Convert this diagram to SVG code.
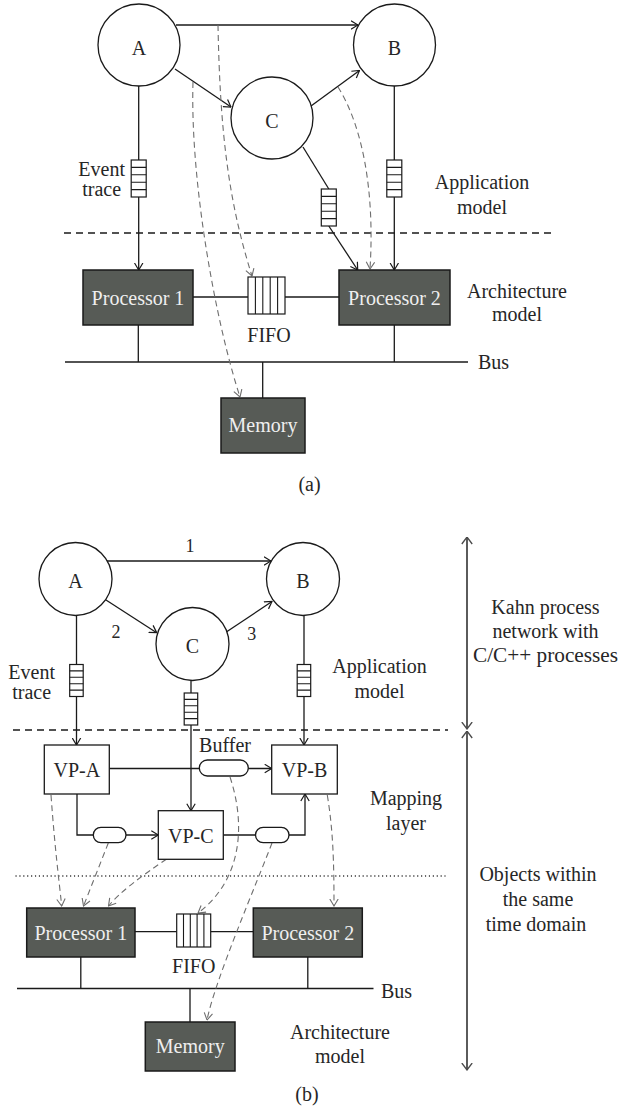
<svg xmlns="http://www.w3.org/2000/svg" width="619" height="1111" viewBox="0 0 619 1111">
<style>
.ln{fill:none;stroke:#1a1a1a;stroke-width:1.3}
.ar{marker-end:url(#ah)}
.dm{fill:none;stroke:#6e6e6e;stroke-width:1.1;stroke-dasharray:6 4;marker-end:url(#ahg)}
.sep{fill:none;stroke:#1a1a1a;stroke-width:1.3;stroke-dasharray:7 5}
.dot{fill:none;stroke:#1a1a1a;stroke-width:1.3;stroke-dasharray:0.1 3.8;stroke-linecap:round}
.nd{fill:#fff;stroke:#1a1a1a;stroke-width:1.3}
.pr{fill:#575b56;stroke:#1a1a1a;stroke-width:1.5}
.t{font-family:"Liberation Serif","Times New Roman",serif;font-size:20px;fill:#262626;text-anchor:middle}
.s{font-size:18px}
.tw{fill:#efefef}
.q{fill:#fff;stroke:#1a1a1a;stroke-width:1.2}
.ql{fill:none;stroke:#1a1a1a;stroke-width:1.1}
.va{fill:none;stroke:#4a4a4a;stroke-width:1.8;marker-start:url(#ahv);marker-end:url(#ahv)}
</style>
<defs>
<marker id="ah" viewBox="0 0 8 10" refX="7.5" refY="5" markerWidth="8" markerHeight="10" markerUnits="userSpaceOnUse" orient="auto"><path d="M0.5,0.8 L7.5,5 L0.5,9.2" fill="none" stroke="#1a1a1a" stroke-width="1.2"/></marker>
<marker id="ahg" viewBox="0 0 8 10" refX="7.5" refY="5" markerWidth="8" markerHeight="10" markerUnits="userSpaceOnUse" orient="auto"><path d="M0.5,0.8 L7.5,5 L0.5,9.2" fill="none" stroke="#6e6e6e" stroke-width="1.1"/></marker>
<marker id="ahv" viewBox="0 0 8 12" refX="7.5" refY="6" markerWidth="8" markerHeight="12" markerUnits="userSpaceOnUse" orient="auto-start-reverse"><path d="M0.5,0.8 L7.5,6 L0.5,11.2" fill="none" stroke="#4a4a4a" stroke-width="1.3"/></marker>
<g id="qa"><rect class="q" x="0" y="0" width="15" height="37"/><path class="ql" d="M0,7.4H15M0,14.8H15M0,22.2H15M0,29.6H15"/></g>
<g id="qb"><rect class="q" x="0" y="0" width="13.5" height="32"/><path class="ql" d="M0,6.4H13.5M0,12.8H13.5M0,19.2H13.5M0,25.6H13.5"/></g>
<g id="fa"><rect class="q" x="0" y="0" width="37" height="37"/><path class="ql" d="M7.4,0V37M14.8,0V37M22.2,0V37M29.6,0V37"/></g>
<g id="fb"><rect class="q" x="0" y="0" width="34" height="33"/><path class="ql" d="M6.8,0V33M13.6,0V33M20.4,0V33M27.2,0V33"/></g>
</defs>

<!-- ===== (a) ===== -->
<g id="a-connectors">
<path class="ln ar" d="M176,25 H358"/>
<path class="ln ar" d="M175,69 L231,107"/>
<path class="ln ar" d="M311,106 L359.5,70.5"/>
<path class="ln ar" d="M138.7,86 V270"/>
<path class="ln ar" d="M394.3,86 V270"/>
<path class="ln" d="M303,147 L328.8,189"/>
<path class="ln ar" d="M328.8,226 L357.7,270"/>
<path class="sep" d="M64,233 H554"/>
<path class="ln" d="M193,297 H339"/>
<path class="ln" d="M65,362 H468"/>
<path class="ln" d="M138.3,325 V362 M394.3,325 V362 M262.7,362 V398"/>
<path class="dm" d="M193,82 C190,180 215,320 240,397"/>
<path class="dm" d="M218,25 C220,130 228,200 252,276"/>
<path class="dm" d="M338,87 C362,125 375,190 370,269"/>
</g>
<g id="a-A"><circle class="nd" cx="139" cy="45" r="41"/><text class="t" x="139" y="55">A</text></g>
<g id="a-B"><circle class="nd" cx="394.5" cy="45" r="41"/><text class="t" x="394.5" y="55">B</text></g>
<g id="a-C"><circle class="nd" cx="272" cy="118" r="41"/><text class="t" x="272" y="128">C</text></g>
<g id="a-qA"><use href="#qa" x="131.2" y="160"/></g>
<g id="a-qB"><use href="#qa" x="386.8" y="160"/></g>
<g id="a-qC"><use href="#qa" x="321.3" y="189"/></g>
<g id="a-P1"><rect class="pr" x="83" y="270" width="110" height="55"/><text class="t tw" x="138" y="305">Processor 1</text></g>
<g id="a-P2"><rect class="pr" x="339" y="270" width="111" height="55"/><text class="t tw" x="394.5" y="305">Processor 2</text></g>
<g id="a-FIFO"><use href="#fa" x="248" y="277"/><text class="t" x="269" y="342">FIFO</text></g>
<g id="a-Mem"><rect class="pr" x="221" y="398" width="84" height="55"/><text class="t tw" x="263" y="432">Memory</text></g>
<g id="a-labels">
<text class="t" x="101.7" y="176">Event</text>
<text class="t" x="101.7" y="196">trace</text>
<text class="t" x="482" y="189">Application</text>
<text class="t" x="482" y="214">model</text>
<text class="t" x="517" y="298">Architecture</text>
<text class="t" x="517" y="321">model</text>
<text class="t" x="478" y="369" style="text-anchor:start">Bus</text>
<text class="t" x="309.5" y="491">(a)</text>
</g>

<!-- ===== (b) ===== -->
<g id="b-connectors">
<path class="ln ar" d="M107,561 H271"/>
<path class="ln ar" d="M106,600 L156.7,632.7"/>
<path class="ln ar" d="M226.7,631.7 L272,601.5"/>
<path class="ln ar" d="M76.5,615.5 V745"/>
<path class="ln ar" d="M304,615.5 V745"/>
<path class="ln ar" d="M191,680.5 V810.7"/>
<path class="sep" d="M13,730 H448"/>
<path class="ln ar" d="M109.3,768.5 H271.7"/>
<path class="ln ar" d="M77,794 V835 H158.3"/>
<path class="ln ar" d="M223.3,835 H305 V794"/>
<path class="dot" d="M16,876 H445"/>
<path class="ln" d="M135,931.7 H253.3"/>
<path class="ln" d="M17,988.5 H373.5"/>
<path class="ln" d="M80.8,957 V988.5 M307.8,957 V988.5 M190,988.5 V1022"/>
<path class="dm" d="M51,795 C55,850 59,880 61.7,906"/>
<path class="dm" d="M108.3,843 L83.5,906"/>
<path class="dm" d="M166.7,859 C140,877 120,892 108.5,906"/>
<path class="dm" d="M230,777 C246,825 242,880 198,913"/>
<path class="dm" d="M272,843 C258,880 215,980 207,1020"/>
<path class="dm" d="M327.3,795 C333,830 334,860 334,906"/>
<path class="va" d="M467,537 V729"/>
<path class="va" d="M467,731 V1070"/>
</g>
<g id="b-A"><circle class="nd" cx="75.5" cy="579" r="36.5"/><text class="t" x="75.5" y="588">A</text></g>
<g id="b-B"><circle class="nd" cx="303" cy="579" r="36.5"/><text class="t" x="303" y="588">B</text></g>
<g id="b-C"><circle class="nd" cx="192.5" cy="644" r="36.5"/><text class="t" x="192.5" y="653">C</text></g>
<g id="b-qA"><use href="#qb" x="69.7" y="664.5"/></g>
<g id="b-qB"><use href="#qb" x="297.2" y="664.5"/></g>
<g id="b-qC"><use href="#qb" x="184.2" y="693"/></g>
<g id="b-VPA"><rect class="nd" x="44.3" y="745" width="65" height="49"/><text class="t" x="76.8" y="777">VP-A</text></g>
<g id="b-VPB"><rect class="nd" x="271.7" y="745" width="65.6" height="49"/><text class="t" x="304.5" y="777">VP-B</text></g>
<g id="b-VPC"><rect class="nd" x="158.3" y="810.7" width="65" height="48.6"/><text class="t" x="190.8" y="843">VP-C</text></g>
<g id="b-Buffer"><rect class="nd" x="199.3" y="760" width="49" height="16" rx="8"/><text class="t" x="225" y="752">Buffer</text></g>
<g id="b-bufAC"><rect class="nd" x="93.3" y="827.3" width="32.7" height="15.4" rx="7.7"/></g>
<g id="b-bufCB"><rect class="nd" x="255.5" y="827.3" width="33.5" height="15.4" rx="7.7"/></g>
<g id="b-P1"><rect class="pr" x="26.7" y="908" width="108.3" height="49"/><text class="t tw" x="80.8" y="939.5">Processor 1</text></g>
<g id="b-P2"><rect class="pr" x="253.3" y="908" width="109" height="49"/><text class="t tw" x="307.8" y="939.5">Processor 2</text></g>
<g id="b-FIFO"><use href="#fb" x="176.7" y="914"/><text class="t" x="193.7" y="973">FIFO</text></g>
<g id="b-Mem"><rect class="pr" x="145.3" y="1022" width="89.7" height="49"/><text class="t tw" x="190.2" y="1053">Memory</text></g>
<g id="b-labels">
<text class="t s" x="190" y="552">1</text>
<text class="t s" x="116" y="637.5">2</text>
<text class="t s" x="251.7" y="639.5">3</text>
<text class="t" x="31.7" y="679">Event</text>
<text class="t" x="31.7" y="699">trace</text>
<text class="t" x="379.5" y="673">Application</text>
<text class="t" x="379.5" y="698">model</text>
<text class="t" x="545.5" y="614">Kahn process</text>
<text class="t" x="545.5" y="638">network with</text>
<text class="t" x="545.5" y="662" textLength="145" lengthAdjust="spacingAndGlyphs">C/C++ processes</text>
<text class="t" x="406" y="805">Mapping</text>
<text class="t" x="406" y="830">layer</text>
<text class="t" x="538" y="881">Objects within</text>
<text class="t" x="538" y="906">the same</text>
<text class="t" x="536" y="931">time domain</text>
<text class="t" x="340" y="1039">Architecture</text>
<text class="t" x="340" y="1063">model</text>
<text class="t" x="381" y="998" style="text-anchor:start">Bus</text>
<text class="t" x="307" y="1101">(b)</text>
</g>
</svg>
